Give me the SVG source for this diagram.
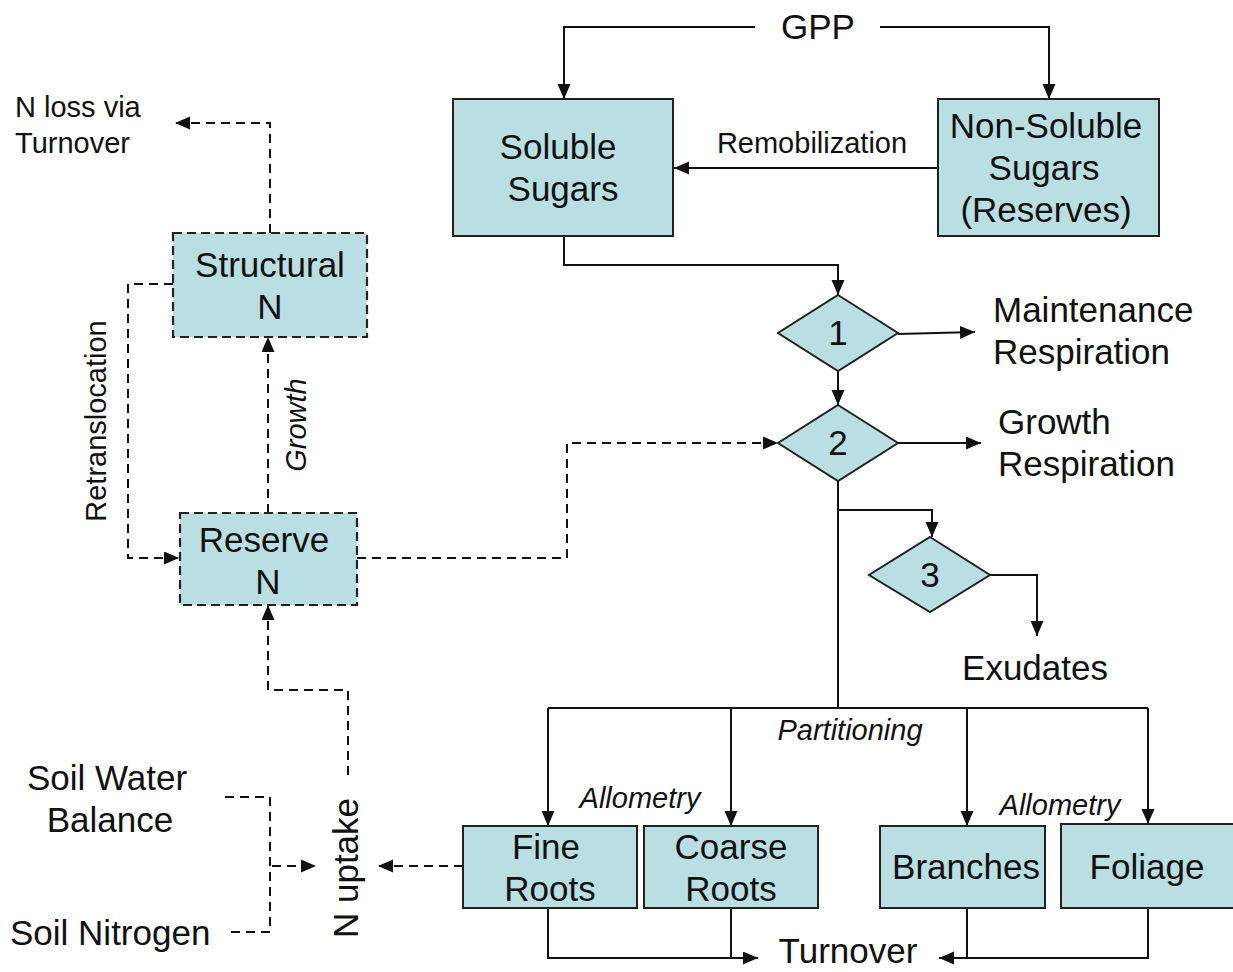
<svg xmlns="http://www.w3.org/2000/svg" width="1233" height="972" viewBox="0 0 1233 972">
<style>
text{font-family:"Liberation Sans",Arial,sans-serif;fill:#111;}
.t{font-size:35px;text-anchor:middle;}
.tl{font-size:35px;}
.s{font-size:29px;}
.sc{font-size:29px;text-anchor:middle;}
.i{font-style:italic;font-size:29px;text-anchor:middle;}
.box{fill:#b9dfe3;stroke:#222;stroke-width:2;}
.dbox{fill:#b9dfe3;stroke:#222;stroke-width:2.2;stroke-dasharray:9 5;}
.c{fill:none;stroke:#111;stroke-width:2;}
.d{fill:none;stroke:#111;stroke-width:2;stroke-dasharray:9 6;}
</style>
<defs>
<marker id="a" markerUnits="userSpaceOnUse" markerWidth="16" markerHeight="14" refX="15" refY="6.5" orient="auto">
<path d="M0,0 L15,6.5 L0,13 z" fill="#111"/>
</marker>
</defs>
<rect width="1233" height="972" fill="#fff"/>
<g id="connectors">
<path class="c" d="M755,27 H564 V99" marker-end="url(#a)"/>
<path class="c" d="M880,27 H1049 V99" marker-end="url(#a)"/>
<path class="c" d="M938,168 H674" marker-end="url(#a)"/>
<path class="c" d="M564,236 V265 H838 V295" marker-end="url(#a)"/>
<path class="c" d="M898,334 L975,332" marker-end="url(#a)"/>
<path class="c" d="M838,371 V405" marker-end="url(#a)"/>
<path class="c" d="M898,443 H981" marker-end="url(#a)"/>
<path class="c" d="M838,481 V708"/>
<path class="c" d="M838,510 H932 V537" marker-end="url(#a)"/>
<path class="c" d="M990,575 H1037 V636" marker-end="url(#a)"/>
<path class="c" d="M548,708 H1148"/>
<path class="c" d="M548,708 V826" marker-end="url(#a)"/>
<path class="c" d="M731,708 V826" marker-end="url(#a)"/>
<path class="c" d="M967,708 V826" marker-end="url(#a)"/>
<path class="c" d="M1148,708 V824" marker-end="url(#a)"/>
<path class="c" d="M548,908 V958 H758" marker-end="url(#a)"/>
<path class="c" d="M731,908 V958"/>
<path class="c" d="M1148,908 V958 H939" marker-end="url(#a)"/>
<path class="c" d="M967,908 V958"/>
<path class="d" d="M270,233 V123 H175" marker-end="url(#a)"/>
<path class="d" d="M173,284 H128 V558 H179" marker-end="url(#a)"/>
<path class="d" d="M268,513 V337" marker-end="url(#a)"/>
<path class="d" d="M357,558 H567 V443 H778" marker-end="url(#a)"/>
<path class="d" d="M348,775 V690 H268 V605" marker-end="url(#a)"/>
<path class="d" d="M225,797 H270 V932 H225"/>
<path class="d" d="M272,866 H316" marker-end="url(#a)"/>
<path class="d" d="M463,866 H378" marker-end="url(#a)"/>
</g>
<g id="gpp"><text class="t" x="818" y="39">GPP</text></g>
<g id="soluble-sugars">
<rect class="box" x="453" y="99" width="220" height="137"/>
<text class="t" x="558" y="159">Soluble</text>
<text class="t" x="563" y="201">Sugars</text>
</g>
<g id="non-soluble-sugars">
<rect class="box" x="938" y="99" width="221" height="137"/>
<text class="t" x="1046" y="138">Non-Soluble</text>
<text class="t" x="1044" y="180">Sugars</text>
<text class="t" x="1046" y="222">(Reserves)</text>
</g>
<g id="remobilization"><text class="sc" x="812" y="153">Remobilization</text></g>
<g id="n-loss"><text class="s" x="15" y="117">N loss via</text><text class="s" x="15" y="153">Turnover</text></g>
<g id="structural-n">
<rect class="dbox" x="173" y="233" width="194" height="104"/>
<text class="t" x="270" y="277">Structural</text>
<text class="t" x="270" y="319">N</text>
</g>
<g id="retranslocation"><text class="sc" transform="translate(106,421) rotate(-90)">Retranslocation</text></g>
<g id="growth-label"><text class="i" transform="translate(306,425) rotate(-90)">Growth</text></g>
<g id="reserve-n">
<rect class="dbox" x="180" y="513" width="177" height="92"/>
<text class="t" x="264" y="552">Reserve</text>
<text class="t" x="268" y="594">N</text>
</g>
<g id="d1">
<polygon class="box" points="838,295 898,333 838,371 778,333"/>
<text class="t" x="838" y="345">1</text>
</g>
<g id="maint"><text class="tl" x="993" y="322">Maintenance</text><text class="tl" x="993" y="364">Respiration</text></g>
<g id="d2">
<polygon class="box" points="838,405 898,443 838,481 778,443"/>
<text class="t" x="838" y="455">2</text>
</g>
<g id="growthresp"><text class="tl" x="998" y="434">Growth</text><text class="tl" x="998" y="476">Respiration</text></g>
<g id="d3">
<polygon class="box" points="930,537 990,575 930,612 869,575"/>
<text class="t" x="930" y="587">3</text>
</g>
<g id="exudates"><text class="t" x="1035" y="680">Exudates</text></g>
<g id="partitioning"><text class="i" x="850" y="740">Partitioning</text></g>
<g id="allometry1"><text class="i" x="640" y="808">Allometry</text></g>
<g id="allometry2"><text class="i" x="1060" y="815">Allometry</text></g>
<g id="fine-roots">
<rect class="box" x="463" y="826" width="174" height="82"/>
<text class="t" x="546" y="859">Fine</text>
<text class="t" x="550" y="901">Roots</text>
</g>
<g id="coarse-roots">
<rect class="box" x="644" y="826" width="174" height="82"/>
<text class="t" x="731" y="859">Coarse</text>
<text class="t" x="731" y="901">Roots</text>
</g>
<g id="branches">
<rect class="box" x="880" y="826" width="165" height="82"/>
<text class="t" x="966" y="879">Branches</text>
</g>
<g id="foliage">
<rect class="box" x="1061" y="824" width="174" height="84"/>
<text class="t" x="1147" y="879">Foliage</text>
</g>
<g id="turnover"><text class="t" x="848" y="963">Turnover</text></g>
<g id="soil-water"><text class="t" x="107" y="790">Soil Water</text><text class="t" x="110" y="832">Balance</text></g>
<g id="soil-nitrogen"><text class="tl" x="10" y="945">Soil Nitrogen</text></g>
<g id="n-uptake"><text class="t" transform="translate(358,868) rotate(-90)">N uptake</text></g>
</svg>
